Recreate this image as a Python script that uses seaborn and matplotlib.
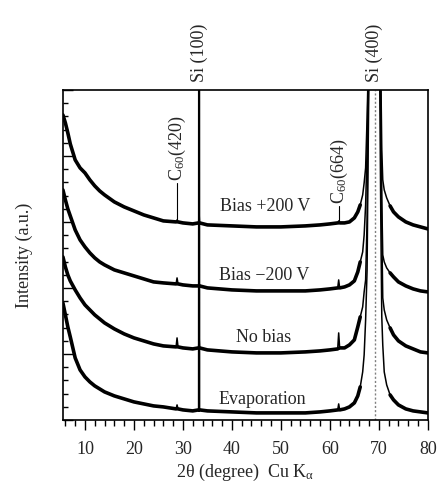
import numpy as np
import matplotlib
matplotlib.use("Agg")
import matplotlib.pyplot as plt
from matplotlib.ticker import MultipleLocator
import seaborn as sns

# XRD patterns of C60 films on Si(100) (a.u., offset stacked)
two_theta = [5.5, 6.0, 6.5, 7.0, 8.0, 9.0, 10, 11, 12, 13,
             14, 16, 18, 20, 22, 24, 26, 28.6, 28.8, 29.0,
             30, 32, 33.2, 33.3, 33.4, 35, 40, 45, 50, 55,
             58, 60, 61.6, 61.8, 62.0, 63, 64, 65, 65.7, 66.2,
             66.7, 67.0, 67.3, 67.6, 67.8, 68.2, 69.1, 70.0, 70.4, 70.6,
             70.8, 71.1, 71.6, 72.3, 73, 74, 75.5, 77, 78.5, 80]

bias_plus200 = [305, 297, 287, 276, 260, 252, 247, 240, 234, 229,
                225, 218, 213, 209, 205, 202, 199, 198, 200, 198,
                197, 196, 197, 207, 197, 195, 194, 193, 193, 194,
                195, 196, 197, 199, 197, 197, 198, 202, 208, 215,
                225, 237, 252, 302, 345, 450, 1200, 450, 350, 270,
                240, 230, 222, 214, 208, 203, 198, 195, 193, 191]

bias_minus200 = [230, 220, 211, 204, 190, 180, 173, 167, 162, 158,
                 155, 150, 147, 144, 141, 138, 137, 136, 142, 136,
                 135, 134, 134, 137, 134, 132, 130, 129, 129, 129,
                 130, 131, 132, 140, 132, 133, 135, 139, 148, 158,
                 168, 185, 215, 270, 340, 450, 1200, 450, 320, 220,
                 165, 158, 152, 147, 143, 138, 134, 131, 129, 128]

no_bias = [163, 153, 145, 139, 130, 122, 115, 110, 105, 101,
           97, 91, 86, 82, 79, 76, 74, 73, 82, 73,
           72, 71, 72, 84, 72, 70, 68, 67, 67, 68,
           69, 70, 71, 87, 72, 72, 75, 80, 93, 103,
           113, 128, 140, 200, 300, 450, 1200, 450, 300, 190,
           122, 110, 100, 92, 85, 79, 74, 71, 68, 67]

evaporation = [117, 105, 93, 83, 62, 50, 43, 38, 34, 31,
               28, 24, 21, 18, 16, 14, 13, 11, 15, 11,
               10, 9, 10, 1500, 10, 9, 8, 7, 7, 7,
               8, 9, 10, 16, 10, 11, 13, 17, 24, 33,
               48, 65, 100, 150, 260, 450, 1500, 450, 200, 103,
               75, 48, 35, 25, 20, 15, 11, 9, 8, 7]

curves = [bias_plus200, bias_minus200, no_bias, evaporation]
curve_labels = ['Bias +200 V', 'Bias \u2212200 V', 'No bias', 'Evaporation']
label_pos = [(46.7, 213), (46.5, 144), (46.5, 82), (46.2, 20)]

# narrow reflections drawn with the thin pen only
spike_windows = [(28.6, 29.0), (33.2, 33.4), (61.6, 62.0)]

sns.set_style("ticks")
plt.rcParams['font.family'] = ['Liberation Serif', 'DejaVu Serif']
plt.rcParams['mathtext.fontset'] = 'custom'
plt.rcParams['mathtext.rm'] = 'Liberation Serif'
plt.rcParams['mathtext.it'] = 'Liberation Serif:italic'

fig = plt.figure(figsize=(4.37, 4.86), dpi=100)
ax = fig.add_axes([0.144, 0.136, 0.835, 0.679])

tt = np.array(two_theta)
keep = (tt < 66.6) | (tt > 71.8)
for lo, hi in spike_windows:
    keep &= ~((tt > lo) & (tt < hi))

for y in curves:
    yy = np.array(y, dtype=float)
    # thin trace everywhere (peaks), thick trace for the noisy background
    sns.lineplot(x=two_theta, y=y, ax=ax, color='black', lw=1.1,
                 sort=False, estimator=None)
    thick = np.where(keep, yy, np.nan)
    ax.plot(tt, thick, color='black', lw=2.6)

for txt, (xp, yp) in zip(curve_labels, label_pos):
    ax.text(xp, yp, txt, ha='center', va='center', fontsize=13)

# Si(400) position
ax.axvline(69.2, color='gray', ls=(0, (1.5, 1.5)), lw=1)

# C60 reflection markers
ax.plot([28.8, 28.8], [200, 237], color='black', lw=0.8)
ax.text(28.8, 239, 'C$_{\\mathregular{60}}$(420)', rotation=90,
        ha='center', va='bottom', fontsize=13)
ax.plot([61.8, 61.8], [199, 214], color='black', lw=0.8)
ax.text(61.9, 216, 'C$_{\\mathregular{60}}$(664)', rotation=90,
        ha='center', va='bottom', fontsize=13)

# Si labels above the frame
ax.text(33.3, 338, 'Si (100)', rotation=90, ha='center', va='bottom',
        fontsize=13, clip_on=False)
ax.text(69.0, 338, 'Si (400)', rotation=90, ha='center', va='bottom',
        fontsize=13, clip_on=False)

ax.set_xlim(5.5, 80)
ax.set_ylim(0, 330)
ax.xaxis.set_major_locator(MultipleLocator(10))
ax.xaxis.set_minor_locator(MultipleLocator(2))
ax.yaxis.set_major_locator(MultipleLocator(66))
ax.yaxis.set_minor_locator(MultipleLocator(13.2))
ax.tick_params(axis='x', which='major', direction='out', length=7, width=1,
               labelsize=13, pad=8, color='black')
ax.tick_params(axis='x', which='minor', direction='out', length=4, width=1,
               color='black')
ax.tick_params(axis='y', which='major', direction='in', length=7, width=1,
               labelleft=False, color='black')
ax.tick_params(axis='y', which='minor', direction='in', length=3.5, width=1,
               color='black')
for s in ax.spines.values():
    s.set_color('black')
    s.set_linewidth(1.2)

ax.set_xlabel('2\u03b8 (degree)  Cu K$_{\\mathregular{\u03b1}}$', fontsize=13, labelpad=3)
ax.set_ylabel('Intensity (a.u.)', fontsize=13, labelpad=18)

fig.savefig('out.png', dpi=100)
